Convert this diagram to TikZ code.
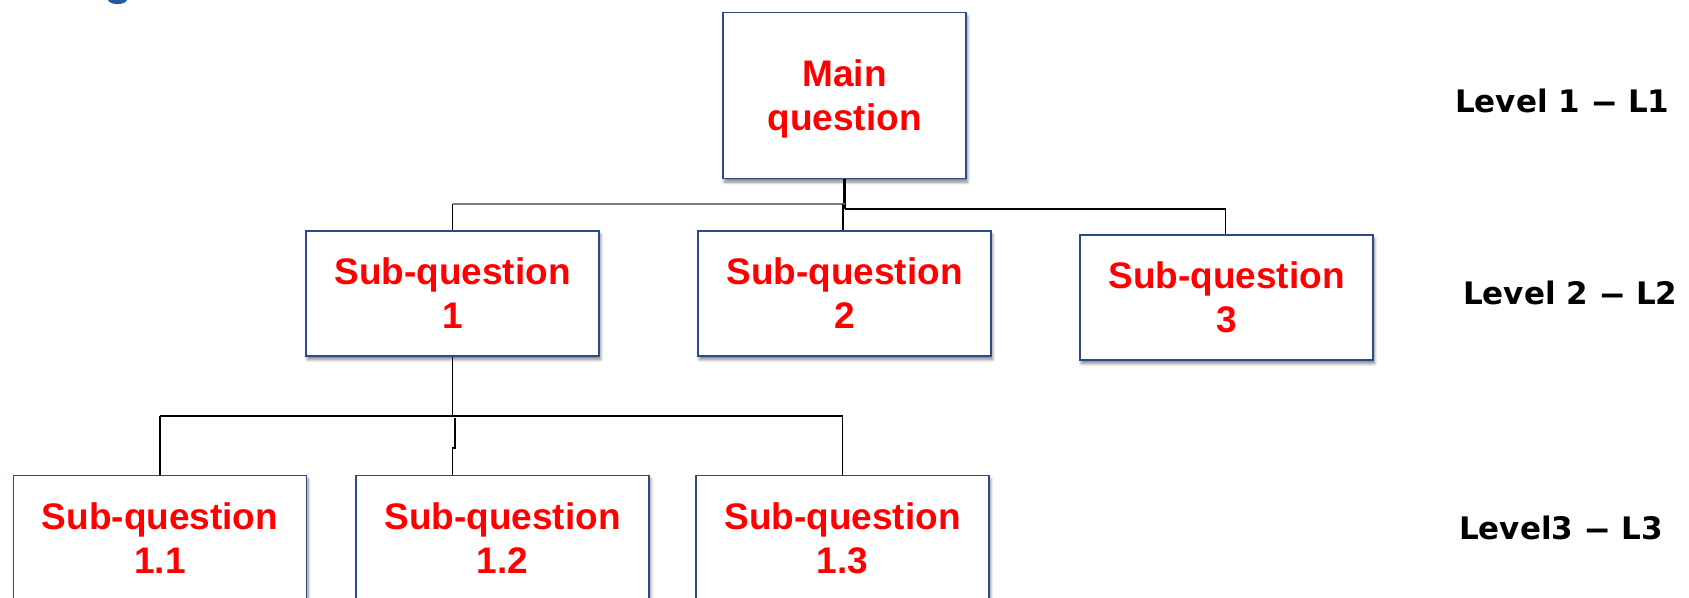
\documentclass[tikz,border=0pt]{standalone}
\usepackage{fontspec}
\setmainfont{Liberation Sans}
\newfontfamily\lvlfont{DejaVu Sans}
\usetikzlibrary{calc,shadows.blur}

\definecolor{boxblue}{HTML}{2B4A8B}
\definecolor{titleblue}{HTML}{1F5C99}
\definecolor{busgray}{HTML}{7F7F7F}

\newcommand{\lvldash}{\scalebox{1.7}[1]{–}}

\tikzset{
  qbox/.style={draw=boxblue, line width=1.6pt, fill=white, inner sep=0pt,
    align=center, text=red, text depth=0pt,
    font=\bfseries\fontsize{37}{44}\selectfont,
    blur shadow={shadow xshift=1.5pt, shadow yshift=-3.5pt, shadow blur radius=3pt,
      shadow blur steps=6, shadow opacity=50}},
  wide/.style={minimum width=293pt, minimum height=125pt},
  lvl/.style={anchor=base west, inner sep=0pt, text=black,
    font=\lvlfont\bfseries\fontsize{31}{38}\selectfont},
  conn/.style={draw=black, line width=1.7pt},
  trunk/.style={draw=black, line width=3pt},
  grayline/.style={draw=busgray, line width=2pt},
}

\begin{document}
\begin{tikzpicture}[x=1pt,y=-1pt]
\useasboundingbox (0,0) rectangle (1689,597);
\clip (0,0) rectangle (1689,597);

% fragment of a cut-off title letter
\fill[titleblue] (108,0) .. controls (110,5.5) and (125,5.5) .. (127,0) -- cycle;

% boxes
\node[qbox, minimum width=243pt, minimum height=166pt] (main) at (844.5,95.5) {Main\\question};
\node[qbox, wide] (s1) at (452.5,293.5) {Sub-question\\1};
\node[qbox, wide] (s2) at (844.5,293.5) {Sub-question\\2};
\node[qbox, wide] (s3) at (1226.5,297.5) {Sub-question\\3};
\node[qbox, wide] (s11) at (160,538) {Sub-question\\1.1};
\node[qbox, wide] (s12) at (502.5,538) {Sub-question\\1.2};
\node[qbox, wide] (s13) at (842.5,538) {Sub-question\\1.3};

% bus levels
\coordinate (busA) at (0,203.7);
\coordinate (busB) at (0,208.7);
\coordinate (busC) at (0,415.7);
\coordinate (jog) at (0,447.7);

% level 1 -> level 2
\draw[trunk] (main.south) -- (main.south |- busB);
\draw[grayline] (s1.north |- busA) -- (main.south |- busA);
\draw[conn] (s1.north |- busA) -- (s1.north);
\draw[conn] ($(s2.north |- busA)+(-1.5,0)$) -- ($(s2.north)+(-1.5,0)$);
\draw[conn] (main.south |- busB) -- ($(s3.north |- busB)+(-1,0)$) -- ($(s3.north)+(-1,0)$);

% level 2 -> level 3
\draw[conn] (s1.south) -- (s1.south |- busC);
\draw[conn] (s11.north |- busC) -- (s13.north |- busC);
\draw[conn] (s11.north |- busC) -- (s11.north);
\draw[conn] (s13.north |- busC) -- (s13.north);
\draw[conn] ($(s1.south |- busC)+(2.5,2.5)$) -- ($(s1.south |- jog)+(2.5,0)$)
  -- (s1.south |- jog) -- (s1.south |- s12.north);

% level labels
\node[lvl] (l1) at (1455,112) {Level 1 \lvldash{} L1};
\node[lvl] (l2) at (1463,304) {Level 2 \lvldash{} L2};
\node[lvl] (l3) at (1459,539) {Level3 \lvldash{} L3};
\end{tikzpicture}
\end{document}
